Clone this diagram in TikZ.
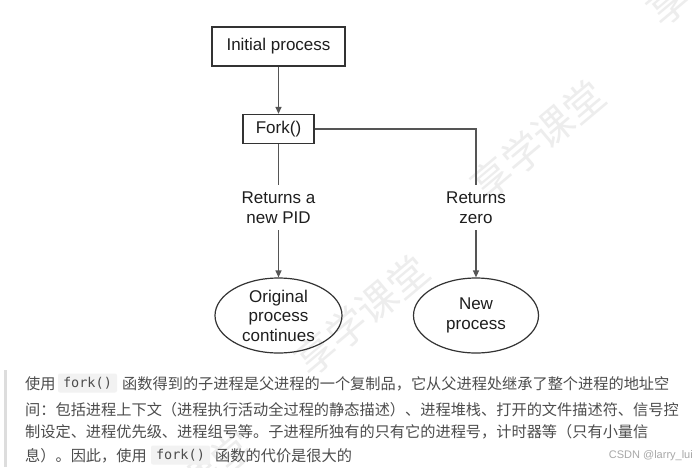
\documentclass[tikz,border=0pt]{standalone}
\usepackage{fontspec}
\setmainfont{Liberation Sans}
\newfontfamily\cjkfam{Noto Sans CJK SC}
\newfontfamily\monofam{DejaVu Sans Mono}
\usetikzlibrary{arrows.meta,shapes.geometric}
\definecolor{boxc}{HTML}{333333}
\definecolor{linec}{HTML}{555555}
\definecolor{txt}{HTML}{1E1E1E}
\definecolor{bodyc}{HTML}{4D4D4D}
\definecolor{codebg}{HTML}{F2F2F2}
\definecolor{barc}{HTML}{DDDDDD}
\definecolor{wmc}{HTML}{EDEDED}
\definecolor{csdnc}{HTML}{A8A8A8}
\newcommand\diagfont{\fontsize{17}{19.5}\selectfont}
\newcommand\cnfont{\cjkfam\fontsize{15.2}{24}\selectfont}
\newcommand\codefnt{\monofam\fontsize{13.5}{16}\selectfont}
\newcommand\wmfont{\cjkfam\fontsize{40}{40}\selectfont}
\begin{document}
\begin{tikzpicture}[x=1pt,y=-1pt,
  box/.style={draw=boxc, line width=1.3pt, inner sep=0pt, font=\diagfont, text=txt},
  oval/.style={ellipse, draw=boxc, line width=1.2pt, inner sep=-4pt, font=\diagfont, align=center, text=txt},
  lbl/.style={inner sep=0pt, font=\diagfont, align=center, text=txt, minimum height=45pt, minimum width=80pt},
  conn/.style={draw=linec, line width=1.3pt},
  arr/.style={conn, -{Triangle[length=7pt,width=6pt]}},
  cn/.style={font=\cnfont, text=bodyc, inner sep=0pt, anchor=base west},
  code/.style={fill=codebg, rounded corners=2pt, font=\codefnt, text=bodyc, minimum width=59pt, minimum height=19pt, inner sep=0pt},
  wm/.style={font=\wmfont, text=wmc, rotate=40, inner sep=0pt}
]
\useasboundingbox (0,0) rectangle (699,467);
\fill[white] (0,0) rectangle (699,467);
% watermarks
\begin{scope}
\clip (0,0) rectangle (699,467);
\node[wm] (w1) at (538,140) {享学课堂};
\node[wm] (w2) at (362,315) {享学课堂};
\node[wm] (w3) at (186,490) {享学课堂};
\node[wm] (w4) at (714,-35) {享学课堂};
\end{scope}
% diagram
\node[box, minimum width=133pt, minimum height=39pt] (init) at (278.5,46.5) {Initial process};
\node[box, minimum width=71pt, minimum height=29pt] (fork) at (278.5,129) {Fork()};
\node[lbl] (ret1) at (278.5,207.5) {Returns a\\new PID};
\node[lbl] (ret2) at (476,207.5) {Returns\\zero};
\node[oval, minimum width=127pt, minimum height=75pt] (orig) at (278.5,315.5) {Original\\process\\continues};
\node[oval, minimum width=125pt, minimum height=75pt] (new) at (476,315.5) {New\\process};
\draw[arr] (init) -- (fork);
\draw[conn] (fork) -- (ret1);
\draw[arr] (ret1) -- (orig);
\draw[conn] (fork.east) -| (ret2.north);
\draw[arr] (ret2) -- (new);
% quote block
\fill[barc] (3.5,370) rectangle (6.5,467);
\node[cn] (t1a) at (25,389) {使用};
\node[code] (c1) at (87.5,383) {fork()};
\node[cn] (t1b) at (122,389) {函数得到的子进程是父进程的一个复制品，它从父进程处继承了整个进程的地址空};
\node[cn] (t2) at (25,415) {间：包括进程上下文（进程执行活动全过程的静态描述）、进程堆栈、打开的文件描述符、信号控};
\node[cn] (t3) at (25,437) {制设定、进程优先级、进程组号等。子进程所独有的只有它的进程号，计时器等（只有小量信};
\node[cn] (t4a) at (25,461) {息）。因此，使用};
\node[code] (c2) at (180.5,455) {fork()};
\node[cn] (t4b) at (215,461) {函数的代价是很大的};
\node[font=\fontsize{11}{13}\selectfont, text=csdnc, inner sep=0pt, anchor=base east] (csdn) at (693,458) {CSDN @larry\_lui};
\end{tikzpicture}
\end{document}
